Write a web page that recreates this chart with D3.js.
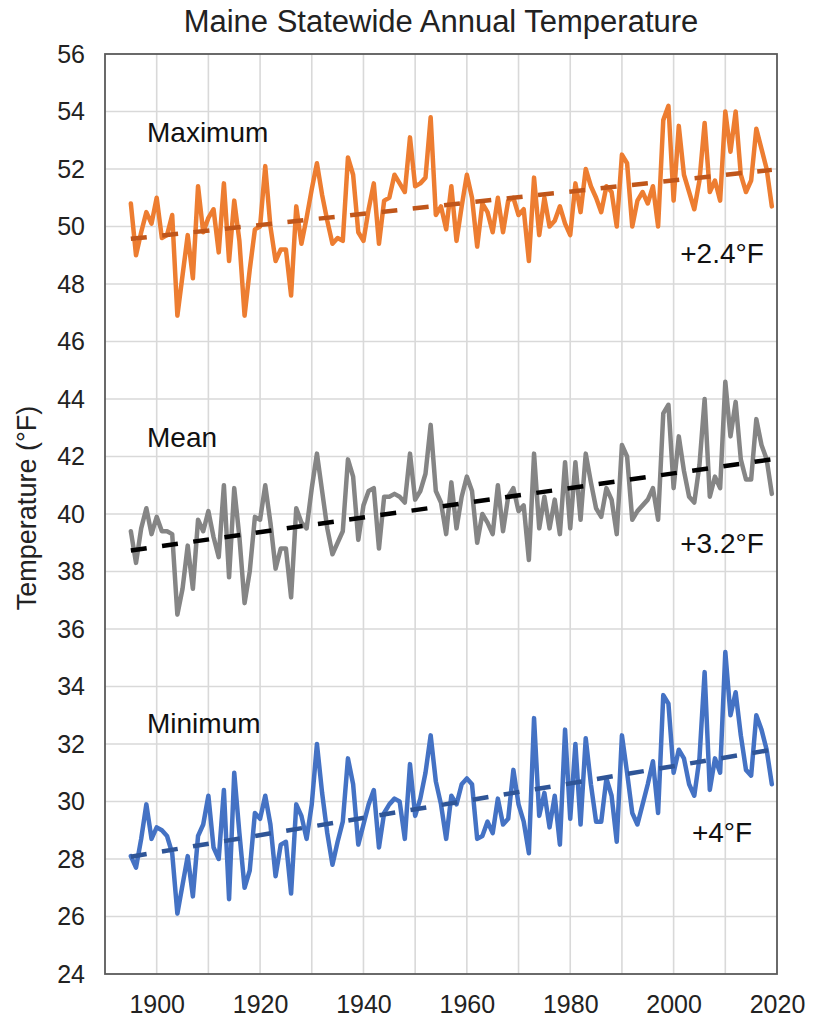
<!DOCTYPE html>
<html>
<head>
<meta charset="utf-8">
<script src="https://cdn.jsdelivr.net/npm/d3@7"></script>
<style>
  html, body { margin: 0; padding: 0; background: #fff; }
  svg { display: block; font-family: "Liberation Sans", Arial, Helvetica, sans-serif; }
</style>
</head>
<body>
<svg id="chart" width="820" height="1017"></svg>
<script>
// ---------------- data ----------------
const firstYear = 1895;
const lastYear = 2019;

const maxTemp = [
  50.8, 49.0, 49.8, 50.5, 50.1, 51.0, 49.6, 49.7, 50.4, 46.9,
  48.3, 49.7, 48.2, 51.4, 49.8, 50.3, 50.6, 49.1, 51.5, 48.8,
  50.9, 49.5, 46.9, 48.5, 49.9, 50.0, 52.1, 50.0, 48.8, 49.2,
  49.2, 47.6, 50.7, 49.4, 50.3, 51.3, 52.2, 51.1, 50.2, 49.4,
  49.6, 49.5, 52.4, 51.8, 49.8, 49.5, 50.6, 51.5, 49.4, 50.9,
  51.0, 51.8, 51.5, 51.2, 53.1, 51.4, 51.5, 51.7, 53.8, 50.4,
  50.7, 49.9, 51.4, 49.5, 50.7, 51.8, 51.0, 49.3, 50.8, 50.5,
  49.8, 51.0, 49.8, 50.9, 51.0, 50.4, 50.6, 48.8, 51.7, 49.7,
  51.0, 50.0, 50.2, 50.7, 50.1, 49.7, 51.5, 50.5, 52.0, 51.4,
  51.0, 50.5, 51.4, 51.2, 50.0, 52.5, 52.2, 50.0, 50.9, 51.2,
  50.8, 51.4, 50.0, 53.7, 54.2, 50.9, 53.5, 51.8, 51.2, 50.6,
  51.6, 53.6, 51.2, 51.6, 50.9, 54.0, 52.6, 54.0, 51.8, 51.2,
  51.6, 53.4, 52.7, 52.0, 50.7
];

const meanTemp = [
  39.4, 38.3, 39.5, 40.2, 39.3, 39.9, 39.4, 39.4, 39.3, 36.5,
  37.4, 38.9, 37.4, 39.8, 39.4, 40.1, 39.2, 38.5, 41.0, 37.8,
  40.9, 39.2, 36.9, 38.0, 39.9, 39.8, 41.0, 39.7, 38.1, 38.8,
  38.8, 37.1, 40.2, 39.7, 39.5, 40.9, 42.1, 40.8, 39.5, 38.6,
  39.0, 39.4, 41.9, 41.3, 39.1, 40.3, 40.8, 40.9, 38.8, 40.6,
  40.6, 40.7, 40.6, 40.4, 42.1, 40.5, 40.8, 41.4, 43.1, 40.8,
  40.4, 39.3, 41.1, 39.5, 40.6, 41.3, 40.8, 39.0, 40.0, 39.7,
  39.3, 41.0, 39.4, 40.6, 40.9, 40.1, 40.3, 38.4, 42.1, 39.5,
  40.6, 39.5, 40.5, 39.3, 41.8, 39.5, 41.8, 39.8, 42.1, 41.1,
  40.2, 39.9, 40.9, 40.5, 39.3, 42.4, 42.0, 39.8, 40.1, 40.3,
  40.5, 40.9, 39.8, 43.5, 43.8, 40.9, 42.7, 41.5, 40.6, 40.4,
  41.7, 44.0, 40.6, 41.3, 40.9, 44.6, 42.7, 43.9, 41.9, 41.2,
  41.2, 43.3, 42.4, 41.9, 40.7
];

const minTemp = [
  28.1, 27.7, 28.7, 29.9, 28.7, 29.1, 29.0, 28.8, 28.2, 26.1,
  27.1, 28.1, 26.7, 28.8, 29.2, 30.2, 28.4, 28.0, 30.4, 26.6,
  31.0, 28.9, 27.0, 27.6, 29.6, 29.4, 30.2, 29.2, 27.4, 28.5,
  28.6, 26.8, 29.9, 29.5, 28.7, 29.9, 32.0, 30.3, 28.9, 27.8,
  28.6, 29.3, 31.5, 30.6, 28.5, 29.2, 29.9, 30.4, 28.4, 29.6,
  29.9, 30.1, 30.0, 28.7, 31.3, 29.5, 30.1, 31.0, 32.3, 30.7,
  29.9, 28.7, 30.2, 29.9, 30.6, 30.8, 30.6, 28.7, 28.8, 29.3,
  28.9, 30.1, 29.2, 29.4, 31.1, 29.9, 29.3, 28.2, 32.9, 29.5,
  30.3, 29.1, 30.2, 28.5, 32.5, 29.4, 32.0, 29.2, 32.2, 30.6,
  29.3, 29.3, 30.8, 30.2, 28.6, 32.3, 31.0, 29.6, 29.2, 29.9,
  30.6, 31.4, 29.6, 33.7, 33.4, 31.0, 31.8, 31.5, 30.6, 30.2,
  31.5, 34.5, 30.4, 31.5, 31.0, 35.2, 33.0, 33.8, 32.3, 31.1,
  30.9, 33.0, 32.5, 31.8, 30.6
];

// trend lines: value at first year and at last year
const maxTrend = [49.57, 51.97];
const meanTrend = [38.73, 41.9];
const minTrend = [28.08, 31.8];

const seriesNames = ["Maximum", "Mean", "Minimum"];
const changeLabels = ["+2.4°F", "+3.2°F", "+4°F"];
const xTickValues = [1900, 1920, 1940, 1960, 1980, 2000, 2020];
const yTickValues = [24, 26, 28, 30, 32, 34, 36, 38, 40, 42, 44, 46, 48, 50, 52, 54, 56];
const xGridValues = [1900, 1910, 1920, 1930, 1940, 1950, 1960, 1970, 1980, 1990, 2000, 2010];
const titleText = "Maine Statewide Annual Temperature";
const yAxisTitle = "Temperature (°F)";

// ---------------- layout ----------------
const L = 105, R = 777, T = 54, B = 974;
const svg = d3.select("#chart");

const x = d3.scaleLinear().domain([1890, 2020]).range([L, R]);
const y = d3.scaleLinear().domain([24, 56]).range([B, T]);

const years = d3.range(firstYear, lastYear + 1);

// gridlines
const grid = svg.append("g");
grid.selectAll("line.v").data(xGridValues).enter().append("line")
  .attr("x1", d => x(d)).attr("x2", d => x(d))
  .attr("y1", T).attr("y2", B)
  .attr("stroke", "#d9d9d9").attr("stroke-width", 1.6);
grid.selectAll("line.h").data(yTickValues.filter(v => v > 24 && v < 56)).enter().append("line")
  .attr("x1", L).attr("x2", R)
  .attr("y1", d => y(d)).attr("y2", d => y(d))
  .attr("stroke", "#d9d9d9").attr("stroke-width", 1.6);

// plot border
svg.append("rect")
  .attr("x", L).attr("y", T).attr("width", R - L).attr("height", B - T)
  .attr("fill", "none").attr("stroke", "#5a5a5a").attr("stroke-width", 1.8);

// axes (labels only)
const yAxis = svg.append("g").attr("transform", `translate(${L - 20},0)`)
  .call(d3.axisLeft(y).tickValues(yTickValues).tickSize(0).tickPadding(0).tickFormat(d3.format("d")));
yAxis.select(".domain").remove();
yAxis.selectAll("text").attr("font-size", 25).attr("fill", "#222")
  .attr("font-family", "'Liberation Sans', Arial, sans-serif");

const xAxis = svg.append("g").attr("transform", `translate(0,${B})`)
  .call(d3.axisBottom(x).tickValues(xTickValues).tickSize(0).tickPadding(0).tickFormat(d3.format("d")));
xAxis.select(".domain").remove();
xAxis.selectAll("text").attr("font-size", 25).attr("fill", "#222")
  .attr("dy", null).attr("y", 39)
  .attr("font-family", "'Liberation Sans', Arial, sans-serif");

// title
svg.append("text")
  .attr("x", (L + R) / 2).attr("y", 32)
  .attr("text-anchor", "middle").attr("font-size", 31).attr("fill", "#222")
  .text(titleText);

// y axis title
svg.append("text")
  .attr("transform", "translate(36,508) rotate(-90)")
  .attr("text-anchor", "middle").attr("font-size", 27).attr("fill", "#222")
  .text(yAxisTitle);

// series
const series = [
  { vals: maxTemp, trend: maxTrend, color: "#ED7D31", trendColor: "#C0561A", label: seriesNames[0], labelY: 142, change: changeLabels[0], changeY: 263 },
  { vals: meanTemp, trend: meanTrend, color: "#858585", trendColor: "#000000", label: seriesNames[1], labelY: 447, change: changeLabels[1], changeY: 553 },
  { vals: minTemp, trend: minTrend, color: "#4472C4", trendColor: "#2F5597", label: seriesNames[2], labelY: 733, change: changeLabels[2], changeY: 842 }
];

const line = d3.line().x(d => x(d[0])).y(d => y(d[1]));

series.forEach(s => {
  const pts = years.map((yr, i) => [yr, s.vals[i]]);
  svg.append("path")
    .attr("d", line(pts))
    .attr("fill", "none").attr("stroke", s.color)
    .attr("stroke-width", 4.5).attr("stroke-linejoin", "round").attr("stroke-linecap", "round");
});

series.forEach(s => {
  svg.append("path")
    .attr("d", line([[firstYear, s.trend[0]], [lastYear, s.trend[1]]]))
    .attr("fill", "none").attr("stroke", s.trendColor)
    .attr("stroke-width", 4.5).attr("stroke-dasharray", "16,15.5");
});

series.forEach(s => {
  svg.append("text").attr("x", 147).attr("y", s.labelY)
    .attr("font-size", 28).attr("fill", "#111").text(s.label);
  svg.append("text").attr("x", 722).attr("y", s.changeY)
    .attr("text-anchor", "middle").attr("font-size", 28).attr("fill", "#111").text(s.change);
});
</script>
</body>
</html>
